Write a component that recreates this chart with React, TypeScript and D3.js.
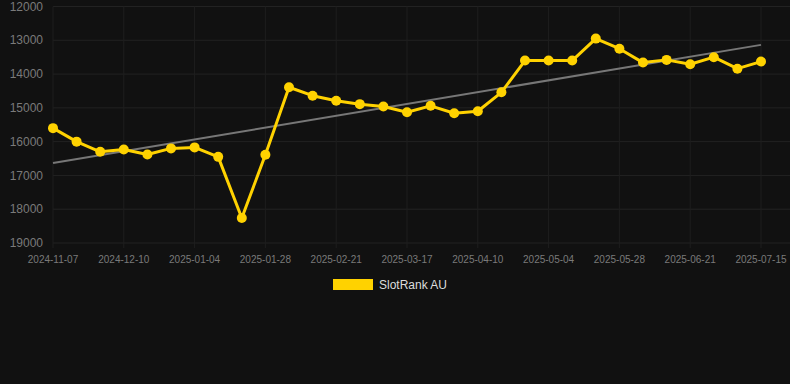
import React from "react";
import * as d3 from "d3";

const dates = [
  "2024-11-07", "2024-11-24", "2024-12-02", "2024-12-10", "2024-12-18", "2024-12-26",
  "2025-01-04", "2025-01-12", "2025-01-20", "2025-01-28", "2025-02-05", "2025-02-13",
  "2025-02-21", "2025-03-01", "2025-03-09", "2025-03-17", "2025-03-25", "2025-04-02",
  "2025-04-10", "2025-04-18", "2025-04-26", "2025-05-04", "2025-05-12", "2025-05-20",
  "2025-05-28", "2025-06-05", "2025-06-13", "2025-06-21", "2025-06-29", "2025-07-07",
  "2025-07-15",
];

const ranks = [
  15600, 16000, 16300, 16230, 16380, 16200, 16170, 16450, 18260, 16390,
  14390, 14640, 14790, 14890, 14960, 15130, 14940, 15160, 15100, 14540,
  13600, 13600, 13600, 12950, 13250, 13660, 13580, 13710, 13500, 13840,
  13630,
];

const yTicks = [12000, 13000, 14000, 15000, 16000, 17000, 18000, 19000];
const seriesName = "SlotRank AU";

const W = 790;
const H = 384;

export default function App() {
  const x = d3.scaleLinear().domain([0, dates.length - 1]).range([53, 761]);
  const y = d3.scaleLinear().domain([12000, 19000]).range([6.5, 243]);

  // linear regression trend
  const n = ranks.length;
  const mx = d3.mean(d3.range(n)) as number;
  const my = d3.mean(ranks) as number;
  let num = 0;
  let den = 0;
  ranks.forEach((v, i) => {
    num += (i - mx) * (v - my);
    den += (i - mx) * (i - mx);
  });
  const slope = num / den;
  const intercept = my - slope * mx;

  const line = d3
    .line<number>()
    .x((_, i) => x(i))
    .y((d) => y(d));

  const labelIdx = d3.range(0, n, 3);

  return (
    <svg
      width={W}
      height={H}
      style={{ position: "absolute", left: 0, top: 0, background: "#111111", display: "block" }}
      fontFamily="Liberation Sans, Arial, sans-serif"
    >
      <rect x={0} y={0} width={W} height={H} fill="#111111" />
      {yTicks.map((t) => (
        <g key={t}>
          <line x1={53} x2={W} y1={y(t)} y2={y(t)} stroke="#222222" strokeWidth={1} />
          <text x={43} y={y(t)} dy="0.35em" textAnchor="end" fontSize={12} fill="#7a7a7a">
            {t}
          </text>
        </g>
      ))}
      {labelIdx.map((i) => (
        <g key={i}>
          <line x1={x(i)} x2={x(i)} y1={6.5} y2={248} stroke="#1e1e1e" strokeWidth={1} />
          <text x={x(i)} y={263} textAnchor="middle" fontSize={10} fill="#7a7a7a">
            {dates[i]}
          </text>
        </g>
      ))}
      <line
        x1={x(0)}
        y1={y(intercept)}
        x2={x(n - 1)}
        y2={y(intercept + slope * (n - 1))}
        stroke="#777777"
        strokeWidth={2}
      />
      <path d={line(ranks) as string} fill="none" stroke="#ffd200" strokeWidth={3} strokeLinejoin="round" />
      {ranks.map((v, i) => (
        <circle key={i} cx={x(i)} cy={y(v)} r={5} fill="#ffd200" />
      ))}
      <rect x={333} y={279} width={40} height={11} fill="#ffd200" />
      <text x={379} y={284.5} dy="0.35em" fontSize={12} fill="#dddddd">
        {seriesName}
      </text>
    </svg>
  );
}
